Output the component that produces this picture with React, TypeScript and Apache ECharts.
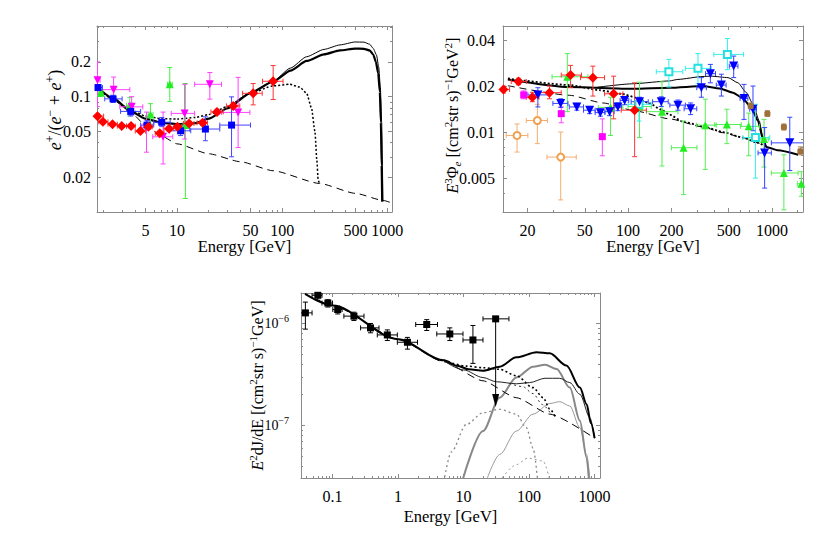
import React, { useEffect, useRef } from "react";
import * as echarts from "echarts";

const FONT = "'Liberation Serif', 'Times New Roman', serif";
const FRAME = "#8a8a8a";

// ============ Panel A : positron fraction e+/(e- + e+) ============
// rows: [E (GeV), value, value low, value high, E low, E high]
const aRed = [
  [1.75, 0.0678, 0.0645, 0.0712, 1.55, 2.0],
  [1.97, 0.0605, 0.0585, 0.0625, 1.8, 2.2],
  [2.43, 0.0578, 0.056, 0.0597, 2.2, 2.7],
  [2.97, 0.0556, 0.054, 0.0573, 2.7, 3.3],
  [3.65, 0.0556, 0.0538, 0.0575, 3.3, 4.0],
  [4.48, 0.0503, 0.0485, 0.0522, 4.0, 5.0],
  [5.34, 0.0548, 0.0528, 0.0569, 5.0, 5.8],
  [6.84, 0.0481, 0.0462, 0.0501, 6.2, 7.5],
  [8.39, 0.0527, 0.0506, 0.0549, 7.5, 9.3],
  [10.1, 0.0548, 0.0526, 0.0571, 9.3, 11.0],
  [13.0, 0.0586, 0.0562, 0.0611, 11.5, 14.5],
  [17.5, 0.0593, 0.0565, 0.0623, 15.5, 19.5],
  [24.0, 0.0738, 0.07, 0.0778, 21.0, 27.5],
  [34.2, 0.0832, 0.078, 0.089, 29.5, 39.5],
  [53.0, 0.107, 0.0849, 0.13, 42, 64.6],
  [82.1, 0.136, 0.0945, 0.186, 65, 102],
];
const aBlue = [
  [1.77, 0.12, 0.114, 0.127, 1.72, 1.95],
  [2.46, 0.0957, 0.089, 0.103, 2.05, 3.0],
  [3.62, 0.0745, 0.068, 0.082, 2.9, 4.5],
  [5.18, 0.0567, 0.052, 0.062, 4.5, 6.0],
  [7.15, 0.06, 0.055, 0.066, 6.0, 8.6],
  [10.8, 0.0506, 0.046, 0.056, 8.5, 13.5],
  [18.6, 0.0524, 0.0415, 0.0669, 13.2, 25.5],
  [33.0, 0.0567, 0.0301, 0.0996, 25.5, 50],
];
const aMagenta = [
  [1.75, 0.139, 0.082, 0.2, 1.65, 1.85],
  [2.49, 0.115, 0.0933, 0.148, 1.84, 3.55],
  [3.7, 0.0816, 0.0692, 0.1, 2.85, 4.72],
  [5.12, 0.0542, 0.033, 0.0735, 4.6, 5.6],
  [7.36, 0.0449, 0.0261, 0.0735, 5.87, 9.1],
  [11.8, 0.0716, 0.0429, 0.128, 8.8, 14.7],
  [20.5, 0.128, 0.0952, 0.162, 14.7, 26.5],
  [38.1, 0.073, 0.0362, 0.147, 26.5, 49.3],
];
const aGreen = [
  [1.88, 0.108, 0.101, 0.115, 1.8, 1.97],
  [3.55, 0.0844, 0.0681, 0.0987, 3.3, 3.8],
  [5.58, 0.0701, 0.058, 0.087, 5.3, 5.9],
  [8.52, 0.128, 0.091, 0.179, 8.1, 9.0],
  [12.0, 0.0567, 0.0131, 0.13, 11.4, 12.6],
];
const aModelThick = [
  [1.75, 0.12], [2.5, 0.096], [3.6, 0.075], [5, 0.0645], [7, 0.0595], [10, 0.0578],
  [15, 0.059], [20, 0.0645], [30, 0.079], [50, 0.108], [82, 0.135], [120, 0.168],
  [171, 0.204], [250, 0.233], [355, 0.252], [494, 0.261], [600, 0.26], [680, 0.252],
  [736, 0.232], [780, 0.2], [820, 0.16], [850, 0.11], [870, 0.06], [885, 0.025], [895, 0.0123],
];
const aModelThin = [
  [30, 0.079], [50, 0.108], [82, 0.136], [120, 0.177], [171, 0.222], [250, 0.257],
  [355, 0.281], [494, 0.298], [600, 0.297], [680, 0.285], [736, 0.262], [790, 0.23],
  [830, 0.18], [860, 0.12], [885, 0.06], [900, 0.025], [908, 0.0123],
];
const aModelDotted = [
  [1.75, 0.118], [2.5, 0.094], [3.6, 0.077], [5, 0.068], [7, 0.0645], [10, 0.064],
  [15, 0.066], [20, 0.07], [30, 0.082], [50, 0.107], [82, 0.124], [118, 0.128],
  [147, 0.121], [171, 0.107], [190, 0.08], [205, 0.05], [214, 0.028], [220, 0.019], [226, 0.0177],
];
const aBackground = [
  [1.75, 0.118], [2.5, 0.093], [3.6, 0.073], [5.2, 0.055], [7, 0.046], [10, 0.039],
  [20, 0.032], [40, 0.0273], [82, 0.0228], [226, 0.0177], [500, 0.0145], [914, 0.0126], [1150, 0.0118],
];
const aXRange = [1.73, 1110];
const aYRange = [0.01, 0.41];
const aXMajor = [5, 10, 50, 100, 500, 1000];
const aXLabels = ["5", "10", "50", "100", "500", "1000"];
const aXMinor = [2, 3, 4, 6, 7, 8, 9, 20, 30, 40, 60, 70, 80, 90, 200, 300, 400, 600, 700, 800, 900];
const aYMajor = [0.02, 0.05, 0.1, 0.2];
const aYLabels = ["0.02", "0.05", "0.1", "0.2"];
const aYMinor = [0.03, 0.04, 0.06, 0.07, 0.08, 0.09, 0.3, 0.4];

// ============ Panel B : electron flux E^3 Phi ============
const bRed = [
  [13.6, 0.019, 0.018, 0.02, 12.5, 15.0],
  [17.3, 0.0214, 0.0204, 0.0225, 15.4, 19.6],
  [21.6, 0.0169, 0.0158, 0.0182, 19.6, 24.0],
  [28.4, 0.0181, 0.0165, 0.02, 23.9, 34.3],
  [39.8, 0.0236, 0.0195, 0.0273, 34.3, 47.4],
  [56.9, 0.0227, 0.0172, 0.027, 46.7, 68.6],
  [79.3, 0.0178, 0.0122, 0.0232, 68.6, 92],
  [111, 0.0139, 0.0069, 0.021, 89.6, 134],
];
const bOrange = [
  [16.9, 0.0095, 0.0074, 0.0113, 14.2, 20.1],
  [23.4, 0.0119, 0.0084, 0.0152, 19.6, 27.5],
  [34.0, 0.00686, 0.0036, 0.01, 27.3, 43.6],
];
const bMagenta = [
  [18.8, 0.0175, 0.0165, 0.0186, 18.8, 18.8],
  [34.3, 0.0132, 0.0115, 0.0146, 34.3, 34.3],
  [66.2, 0.00933, 0.007, 0.0122, 66.2, 66.2],
];
const bGreen = [
  [37.8, 0.023, 0.0136, 0.0326, 29.6, 52.6],
  [75.5, 0.0145, 0.0095, 0.0169, 62, 92],
  [120, 0.0147, 0.0092, 0.0212, 100, 145],
  [172, 0.0136, 0.006, 0.0213, 134, 222],
  [243, 0.0079, 0.0039, 0.0118, 200, 301],
  [344, 0.0111, 0.0057, 0.0164, 298, 410],
  [486, 0.0112, 0.0084, 0.0141, 400, 612],
  [689, 0.0109, 0.007, 0.0133, 603, 821],
  [880, 0.009, 0.0059, 0.0121, 821, 950],
  [1210, 0.0054, 0.0031, 0.0071, 990, 1520],
  [1600, 0.00459, 0.0038, 0.0055, 1500, 1700],
];
const bCyan = [
  [119, 0.0152, 0.0118, 0.0168, 100, 145],
  [192, 0.0248, 0.0197, 0.0299, 157, 240],
  [306, 0.0261, 0.0207, 0.0326, 250, 379],
  [490, 0.0322, 0.0256, 0.0409, 394, 635],
  [767, 0.0092, 0.005, 0.0152, 628, 965],
];
const bBlue = [
  [23.6, 0.0175, 0.0146, 0.0195, 20.1, 28.5],
  [34.0, 0.0154, 0.0145, 0.0165, 30, 38.2],
  [44.0, 0.0146, 0.0139, 0.0154, 39, 49],
  [54.0, 0.0139, 0.0132, 0.0147, 49, 59],
  [64.1, 0.0134, 0.0127, 0.0141, 59, 69],
  [74.3, 0.0136, 0.0128, 0.0144, 69, 80],
  [84.9, 0.0146, 0.0138, 0.0155, 80, 90],
  [94.6, 0.0161, 0.0151, 0.0171, 88, 101],
  [120, 0.0158, 0.0148, 0.0169, 105, 138],
  [170, 0.0158, 0.0147, 0.017, 148, 190],
  [222, 0.015, 0.0139, 0.0162, 195, 250],
  [272, 0.0142, 0.013, 0.0155, 245, 300],
  [323, 0.0195, 0.0169, 0.0227, 300, 350],
  [373, 0.0241, 0.021, 0.0277, 345, 405],
  [445, 0.0203, 0.0172, 0.0239, 410, 480],
  [542, 0.027, 0.0227, 0.0314, 505, 580],
  [639, 0.0166, 0.0121, 0.0205, 600, 680],
  [738, 0.0141, 0.0102, 0.02, 700, 780],
  [889, 0.0073, 0.0043, 0.0107, 800, 990],
  [1330, 0.0085, 0.0056, 0.0125, 990, 1680],
];
const bBrown = [
  [711, 0.0148, 0.0142, 0.0155, 711, 711],
  [929, 0.0132, 0.0127, 0.0138, 929, 929],
  [1210, 0.0108, 0.0103, 0.0113, 1210, 1210],
  [1575, 0.0075, 0.0071, 0.008, 1575, 1575],
];
const bModelThick = [
  [14.6, 0.0221], [39.2, 0.0197], [108, 0.0192], [194, 0.0195], [331, 0.02], [433, 0.0193],
  [536, 0.0181], [629, 0.0166], [719, 0.0144], [800, 0.0118], [865, 0.009], [914, 0.008],
  [1101, 0.0076], [1520, 0.0071],
];
const bModelThin = [
  [60, 0.0196], [108, 0.0207], [194, 0.0216], [222, 0.0221], [331, 0.0231], [379, 0.0232],
  [495, 0.0227], [580, 0.021], [664, 0.0181], [738, 0.0152], [817, 0.0118], [865, 0.0092], [914, 0.008],
];
const bModelDotted = [
  [14.6, 0.0224], [39.2, 0.0203], [63, 0.0188], [90, 0.0178], [114, 0.0168], [141, 0.0154],
  [170, 0.014], [194, 0.013], [240, 0.0117], [331, 0.0109], [456, 0.01], [627, 0.0092],
  [800, 0.0085], [914, 0.008],
];
const bBackground = [
  [14.6, 0.0201], [39.2, 0.0174], [66.8, 0.0155], [114, 0.0137], [194, 0.0122], [331, 0.0108],
  [456, 0.0099], [627, 0.0092], [800, 0.0085], [914, 0.008],
];
const bXRange = [13.5, 1643];
const bYRange = [0.003, 0.0494];
const bXMajor = [20, 50, 100, 200, 500, 1000];
const bXLabels = ["20", "50", "100", "200", "500", "1000"];
const bXMinor = [30, 40, 60, 70, 80, 90, 300, 400, 600, 700, 800, 900, 1500];
const bYMajor = [0.005, 0.01, 0.02, 0.04];
const bYLabels = ["0.005", "0.01", "0.02", "0.04"];
const bYMinor = [0.003, 0.004, 0.006, 0.007, 0.008, 0.009, 0.03];

// ============ Panel C : gamma-ray E^2 dJ/dE ============
const cData = [
  [0.0385, 1.27e-6, 0.88e-6, 1.62e-6, 0.0323, 0.0487],
  [0.0596, 1.89e-6, 1.69e-6, 2.04e-6, 0.0487, 0.069],
  [0.0848, 1.585e-6, 1.45e-6, 1.71e-6, 0.069, 0.1],
  [0.12, 1.37e-6, 1.24e-6, 1.48e-6, 0.101, 0.14],
  [0.212, 1.18e-6, 1.07e-6, 1.29e-6, 0.149, 0.302],
  [0.38, 0.905e-6, 0.81e-6, 1.0e-6, 0.268, 0.512],
  [0.686, 0.772e-6, 0.68e-6, 0.865e-6, 0.482, 0.975],
  [1.39, 0.654e-6, 0.56e-6, 0.73e-6, 0.975, 1.98],
  [2.74, 0.977e-6, 0.853e-6, 1.09e-6, 1.86, 4.0],
  [6.17, 0.789e-6, 0.68e-6, 0.905e-6, 3.9, 9.8],
  [13.9, 0.689e-6, 0.406e-6, 0.955e-6, 9.8, 19.8],
  [30.9, 1.11e-6, 1.11e-6, 1.11e-6, 19.8, 49.3],
];
// upper limit: [E, value, arrow tip]
const cLimit = [[30.9, 1.11e-6, 1.52e-7]];
const cModelThick = [
  [0.038, 1.95e-6], [0.1, 1.5e-6], [1, 7.0e-7], [5, 4.35e-7], [8, 3.85e-7], [12, 3.55e-7],
  [19.8, 3.44e-7], [35.6, 3.77e-7], [64, 4.65e-7], [130, 5.21e-7], [207, 5.09e-7], [372, 3.86e-7],
  [597, 2.35e-7], [757, 1.61e-7], [880, 1.05e-7], [1000, 7.5e-8],
];
const cModelThin = [
  [5, 4.3e-7], [10, 3.5e-7], [19.8, 2.95e-7], [31.7, 2.68e-7], [64, 2.56e-7], [102, 2.63e-7],
  [175, 2.9e-7], [294, 2.9e-7], [419, 2.63e-7], [597, 2.02e-7], [850, 1.19e-7], [1000, 7.5e-8],
];
const cModelDotted = [
  [5, 4.35e-7], [11, 3.82e-7], [19.8, 3.68e-7], [35.6, 3.55e-7], [64, 3.07e-7], [115, 2.35e-7],
  [164, 1.87e-7], [207, 1.45e-7], [250, 1.22e-7],
];
const cModelDottedThin = [
  [50, 2.58e-7], [80, 2.4e-7], [115, 2.05e-7], [160, 1.6e-7], [220, 1.27e-7],
];
const cBackground = [
  [0.038, 1.95e-6], [0.1, 1.5e-6], [1, 7.0e-7], [5, 4.2e-7], [19.8, 2.74e-7], [64, 1.87e-7],
  [207, 1.29e-7], [1000, 7.5e-8],
];
const cGrayThick = [
  [9.5, 2.8e-8], [19.8, 8.81e-8], [35.6, 1.87e-7], [64, 2.95e-7], [115, 3.77e-7], [175, 3.94e-7],
  [263, 3.57e-7], [419, 2.35e-7], [597, 1.11e-7], [757, 4.81e-8], [825, 2.8e-8],
];
const cGrayThin = [
  [22, 2.8e-8], [35.6, 5.18e-8], [64, 8.81e-8], [115, 1.29e-7], [207, 1.64e-7], [294, 1.71e-7],
  [419, 1.55e-7], [597, 9.5e-8], [757, 5.18e-8], [855, 2.8e-8],
];
const cGrayDotted = [
  [5.0, 2.8e-8], [6.5, 5.5e-8], [11, 1.02e-7], [19.8, 1.33e-7], [35.6, 1.44e-7], [64, 1.29e-7],
  [91, 9.5e-8], [115, 6.0e-8], [136, 2.8e-8],
];
const cGrayDottedSmall = [
  [35, 2.8e-8], [64, 4.12e-8], [96, 4.78e-8], [164, 4.47e-8], [210, 2.8e-8],
];
const cXRange = [0.033, 1210];
const cYRange = [3.05e-8, 1.99e-6];
const cXMajor = [0.1, 1, 10, 100, 1000];
const cXLabels = ["0.1", "1", "10", "100", "1000"];
const cXMinor = [
  0.04, 0.05, 0.06, 0.07, 0.08, 0.09, 0.2, 0.3, 0.4, 0.5, 0.6, 0.7, 0.8, 0.9,
  2, 3, 4, 5, 6, 7, 8, 9, 20, 30, 40, 50, 60, 70, 80, 90, 200, 300, 400, 500, 600, 700, 800, 900,
];
const cYMajor = [1e-7, 1e-6];
const cYLabels = ["10{sup|−7}", "10{sup|−6}"];
const cYMinor = [4e-8, 5e-8, 6e-8, 7e-8, 8e-8, 9e-8, 2e-7, 3e-7, 4e-7, 5e-7, 6e-7, 7e-7, 8e-7, 9e-7];

// ---------------------------------------------------------------
const lg = (v: number) => Math.log10(v);

function richFor(size: number) {
  return {
    n: { fontFamily: FONT, fontSize: size, lineHeight: size + 4, color: "#000" },
    i: { fontFamily: FONT, fontSize: size, fontStyle: "italic", lineHeight: size + 4, color: "#000" },
    sup: { fontFamily: FONT, fontSize: Math.round(size * 0.68), lineHeight: Math.round(size * 0.68), verticalAlign: "top", color: "#000" },
    sub: { fontFamily: FONT, fontSize: Math.round(size * 0.68), fontStyle: "italic", lineHeight: Math.round(size * 0.68), verticalAlign: "bottom", color: "#000" },
  };
}

function dataAxis(g: number, range: number[]) {
  return { type: "log", logBase: 10, gridIndex: g, min: range[0], max: range[1], show: false };
}

function decoAxis(g: number, range: number[], pos: string, ticks: number[], len: number, showLine: boolean, label?: any, name?: any) {
  const ax: any = {
    type: "value",
    gridIndex: g,
    position: pos,
    min: lg(range[0]),
    max: lg(range[1]),
    splitLine: { show: false },
    splitArea: { show: false },
    axisLine: { show: showLine, onZero: false, lineStyle: { color: FRAME, width: 1 } },
    axisTick: { show: true, inside: true, length: len, customValues: ticks.map(lg), lineStyle: { color: FRAME, width: 1 } },
    axisLabel: { show: false },
    axisPointer: { show: false },
  };
  if (label) {
    const vals = label.values.map(lg);
    const fs = label.fontSize || 16;
    ax.axisLabel = {
      show: true,
      customValues: vals,
      margin: label.margin,
      fontFamily: FONT,
      fontSize: fs,
      lineHeight: 20,
      color: "#000",
      formatter: (v: number) => {
        let bi = 0;
        vals.forEach((x: number, i: number) => {
          if (Math.abs(x - v) < Math.abs(vals[bi] - v)) bi = i;
        });
        return label.texts[bi];
      },
      rich: { sup: { fontFamily: FONT, fontSize: 10, lineHeight: 10, verticalAlign: "top", color: "#000" } },
    };
  }
  if (name) {
    ax.name = name.text;
    ax.nameLocation = "middle";
    ax.nameGap = name.gap;
    ax.nameMoveOverlap = false;
    ax.nameTextStyle = {
      fontFamily: FONT,
      fontSize: name.size,
      lineHeight: name.size + 4,
      color: "#000",
      padding: name.padding || 0,
      rich: richFor(name.size),
    };
  }
  return ax;
}

function errSeries(g: number, data: number[][], color: string, cap = 2.5, width = 1) {
  return {
    type: "custom",
    xAxisIndex: 5 * g,
    yAxisIndex: 5 * g,
    clip: true,
    silent: true,
    z: 3,
    data,
    renderItem: (_p: any, api: any) => {
      const x = api.value(0), y = api.value(1), ylo = api.value(2), yhi = api.value(3), xlo = api.value(4), xhi = api.value(5);
      const st = { stroke: color, lineWidth: width };
      const p = api.coord([x, y]);
      const children: any[] = [];
      if (ylo !== yhi) {
        const a = api.coord([x, ylo]);
        const b = api.coord([x, yhi]);
        children.push({ type: "line", shape: { x1: p[0], y1: a[1], x2: p[0], y2: b[1] }, style: st });
        children.push({ type: "line", shape: { x1: p[0] - cap, y1: a[1], x2: p[0] + cap, y2: a[1] }, style: st });
        children.push({ type: "line", shape: { x1: p[0] - cap, y1: b[1], x2: p[0] + cap, y2: b[1] }, style: st });
      }
      if (xlo !== xhi) {
        const l = api.coord([xlo, y]);
        const r = api.coord([xhi, y]);
        children.push({ type: "line", shape: { x1: l[0], y1: p[1], x2: r[0], y2: p[1] }, style: st });
        children.push({ type: "line", shape: { x1: l[0], y1: p[1] - cap, x2: l[0], y2: p[1] + cap }, style: st });
        children.push({ type: "line", shape: { x1: r[0], y1: p[1] - cap, x2: r[0], y2: p[1] + cap }, style: st });
      }
      return { type: "group", children };
    },
  };
}

function markerSeries(g: number, data: number[][], symbol: string, size: number, color: string, rotate = 0) {
  return {
    type: "scatter",
    xAxisIndex: 5 * g,
    yAxisIndex: 5 * g,
    data: data.map((d) => [d[0], d[1]]),
    symbol,
    symbolSize: size,
    symbolRotate: rotate,
    itemStyle: { color, opacity: 1, borderWidth: symbol.startsWith("empty") ? 1.2 : 0 },
    silent: true,
    clip: true,
    z: 4,
  };
}

function lineSeries(g: number, data: number[][], color: string, width: number, type: any, smooth = 0.3) {
  return {
    type: "line",
    xAxisIndex: 5 * g,
    yAxisIndex: 5 * g,
    data,
    showSymbol: false,
    symbol: "none",
    smooth,
    smoothMonotone: "x",
    lineStyle: { color, width, type },
    silent: true,
    clip: true,
    z: 2,
  };
}

function buildOption() {
  const xAxis: any[] = [];
  const yAxis: any[] = [];
  const panels = [
    {
      xr: aXRange, yr: aYRange, xM: aXMajor, xL: aXLabels, xm: aXMinor, yM: aYMajor, yL: aYLabels, ym: aYMinor,
      xMargin: 8, yMargin: 6, yFont: 16,
      xName: { text: "Energy [GeV]", gap: 24, size: 16.5 },
      yName: { text: "{i|e}{sup|+}{n|/(}{i|e}{sup|−}{n| + }{i|e}{sup|+}{n|)}", gap: 31, size: 18, padding: [0, 0, 0, 18] },
    },
    {
      xr: bXRange, yr: bYRange, xM: bXMajor, xL: bXLabels, xm: bXMinor, yM: bYMajor, yL: bYLabels, ym: bYMinor,
      xMargin: 8, yMargin: 8, yFont: 16,
      xName: { text: "Energy [GeV]", gap: 24, size: 16.5 },
      yName: { text: "{i|E}{sup|3}{n|Φ}{sub|e}{n| [(cm}{sup|2}{n|str s)}{sup|−1}{n|GeV}{sup|2}{n|]}", gap: 41, size: 16, padding: [0, 0, 0, 7] },
    },
    {
      xr: cXRange, yr: cYRange, xM: cXMajor, xL: cXLabels, xm: cXMinor, yM: cYMajor, yL: cYLabels, ym: cYMinor,
      xMargin: 8, yMargin: 12, yFont: 14,
      xName: { text: "Energy [GeV]", gap: 28, size: 16.5 },
      yName: { text: "{i|E}{sup|2}{n|dJ/dE [(cm}{sup|2}{n|str s)}{sup|−1}{n|GeV]}", gap: 34, size: 16 },
    },
  ];
  panels.forEach((p, g) => {
    xAxis.push(dataAxis(g, p.xr));
    xAxis.push(decoAxis(g, p.xr, "bottom", p.xM, 4, true, { values: p.xM, texts: p.xL, margin: p.xMargin }, p.xName));
    xAxis.push(decoAxis(g, p.xr, "bottom", p.xm, 2, false));
    xAxis.push(decoAxis(g, p.xr, "top", p.xM, 4, true));
    xAxis.push(decoAxis(g, p.xr, "top", p.xm, 2, false));
    yAxis.push(dataAxis(g, p.yr));
    yAxis.push(decoAxis(g, p.yr, "left", p.yM, 4, true, { values: p.yM, texts: p.yL, margin: p.yMargin, fontSize: p.yFont }, p.yName));
    yAxis.push(decoAxis(g, p.yr, "left", p.ym, 2, false));
    yAxis.push(decoAxis(g, p.yr, "right", p.yM, 4, true));
    yAxis.push(decoAxis(g, p.yr, "right", p.ym, 2, false));
  });

  const RED = "#ff0000";
  const BLUE = "#0000ff";
  const MAG = "#ff00ff";
  const GREEN = "#22ee22";
  const series: any[] = [
    // ---- Panel A ----
    lineSeries(0, aBackground, "#000", 1, [7, 5], 0.2),
    lineSeries(0, aModelDotted, "#000", 1.5, [2, 2], 0.2),
    lineSeries(0, aModelThin, "#000", 1, "solid", 0.2),
    lineSeries(0, aModelThick, "#000", 2.2, "solid", 0.2),
    errSeries(0, aGreen, "#44ee44"),
    errSeries(0, aMagenta, "#ff44ff"),
    errSeries(0, aBlue, "#4444ff"),
    errSeries(0, aRed, "#ff3333"),
    markerSeries(0, aGreen, "triangle", 8, GREEN),
    markerSeries(0, aMagenta, "triangle", 8, MAG, 180),
    markerSeries(0, aBlue, "rect", 7, BLUE),
    markerSeries(0, aRed, "diamond", 10, RED),
    // ---- Panel B ----
    lineSeries(1, bBackground, "#000", 1, [7, 5], 0.2),
    lineSeries(1, bModelDotted, "#000", 1.8, [2, 2], 0.2),
    lineSeries(1, bModelThin, "#000", 1, "solid", 0.2),
    lineSeries(1, bModelThick, "#000", 2, "solid", 0.2),
    errSeries(1, bOrange, "#f5ad70"),
    errSeries(1, bGreen, "#55ee55"),
    errSeries(1, bCyan, "#33eeee"),
    errSeries(1, bMagenta, "#ff44ff"),
    errSeries(1, bBlue, "#3344ff"),
    errSeries(1, bBrown, "#b0855a"),
    errSeries(1, bRed, "#ff3333"),
    markerSeries(1, bOrange, "emptyCircle", 7, "#f0a050"),
    markerSeries(1, bGreen, "triangle", 8, GREEN),
    markerSeries(1, bCyan, "emptyRect", 7, "#22e0e0"),
    markerSeries(1, bMagenta, "rect", 7, MAG),
    markerSeries(1, bBlue, "triangle", 9, BLUE, 180),
    markerSeries(1, bBrown, "roundRect", 6, "#a0703a"),
    markerSeries(1, bRed, "diamond", 10, RED),
    // ---- Panel C ----
    lineSeries(2, cGrayDottedSmall, "#999", 1, [2, 3], 0.3),
    lineSeries(2, cGrayDotted, "#888", 1.3, [2, 3], 0.3),
    lineSeries(2, cGrayThin, "#999", 1, "solid", 0.3),
    lineSeries(2, cGrayThick, "#888", 2, "solid", 0.3),
    lineSeries(2, cBackground, "#000", 1, [8, 5], 0.2),
    lineSeries(2, cModelDottedThin, "#333", 1, [2, 3], 0.3),
    lineSeries(2, cModelDotted, "#000", 1.6, [2, 2.5], 0.3),
    lineSeries(2, cModelThin, "#222", 1, "solid", 0.3),
    lineSeries(2, cModelThick, "#000", 2, "solid", 0.3),
    errSeries(2, cData, "#000"),
    {
      type: "custom",
      xAxisIndex: 10,
      yAxisIndex: 10,
      clip: true,
      silent: true,
      z: 3,
      data: cLimit,
      renderItem: (_p: any, api: any) => {
        const top = api.coord([api.value(0), api.value(1)]);
        const tip = api.coord([api.value(0), api.value(2)]);
        return {
          type: "group",
          children: [
            { type: "line", shape: { x1: top[0], y1: top[1], x2: tip[0], y2: tip[1] - 10 }, style: { stroke: "#000", lineWidth: 1 } },
            { type: "polygon", shape: { points: [[tip[0] - 3.5, tip[1] - 13], [tip[0] + 3.5, tip[1] - 13], [tip[0], tip[1]]] }, style: { fill: "#000" } },
          ],
        };
      },
    },
    markerSeries(2, cData, "rect", 7, "#000"),
  ];

  return {
    animation: false,
    backgroundColor: "#fff",
    textStyle: { fontFamily: FONT },
    grid: [
      { left: 97, top: 26, width: 295, height: 186 },
      { left: 503, top: 26, width: 300, height: 186 },
      { left: 301, top: 293, width: 299, height: 185 },
    ],
    xAxis,
    yAxis,
    series,
  };
}

export default function App() {
  const ref = useRef<HTMLDivElement>(null);
  useEffect(() => {
    const chart = echarts.init(ref.current as HTMLDivElement, undefined, { renderer: "svg" });
    chart.setOption(buildOption() as any);
    return () => chart.dispose();
  }, []);
  return (
    <div
      ref={ref}
      style={{ position: "absolute", left: 0, top: 0, width: 830, height: 551, background: "#fff" }}
    />
  );
}
